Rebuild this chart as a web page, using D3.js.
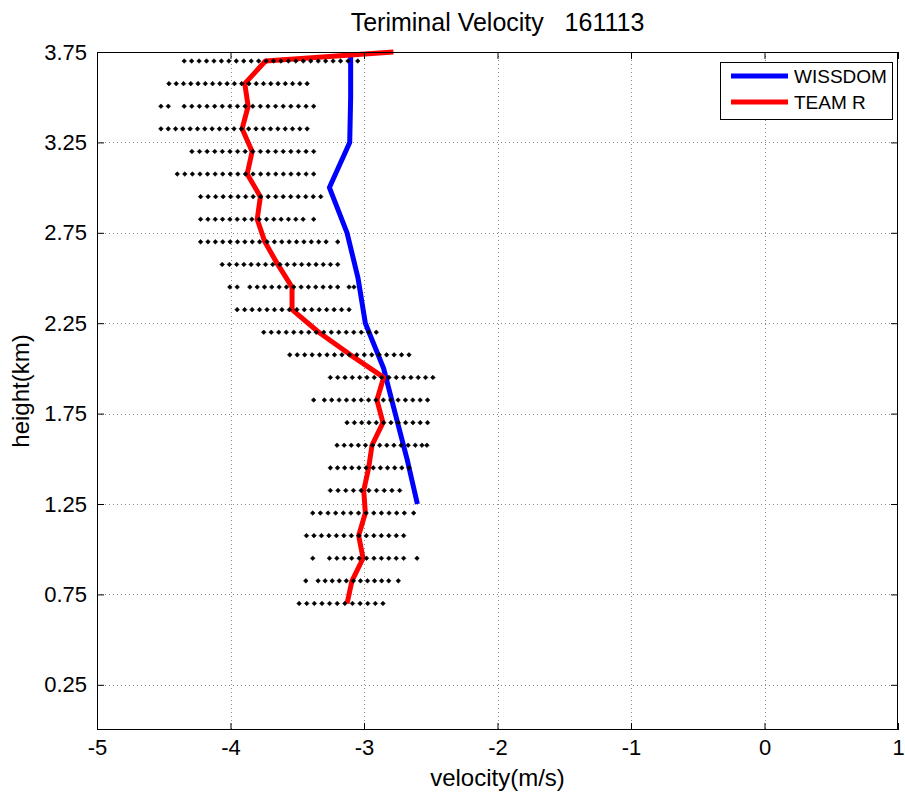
<!DOCTYPE html>
<html>
<head>
<meta charset="utf-8">
<script src="https://cdn.jsdelivr.net/npm/d3@7"></script>
<style>
  html, body { margin: 0; padding: 0; background: #fff; }
  svg { display: block; font-family: "Liberation Sans", Arial, Helvetica, sans-serif; }
</style>
</head>
<body>
<svg id="chart" width="905" height="802"></svg>
<script>
// ---- data ----
const xTicks = [-5, -4, -3, -2, -1, 0, 1];
const yTicks = [0.25, 0.75, 1.25, 1.75, 2.25, 2.75, 3.25, 3.75];

// WISSDOM retrieved terminal velocity profile
const wissdomHeight = [3.75, 3.5, 3.25, 3.0, 2.75, 2.5, 2.25, 2.0, 1.75, 1.5, 1.25];
const wissdomVel    = [-3.10, -3.10, -3.107, -3.259, -3.127, -3.045, -2.99, -2.853, -2.766, -2.678, -2.60];

// TEAM R terminal velocity profile
const teamRHeight = [3.75, 3.7, 3.575, 3.45, 3.325, 3.2, 3.075, 2.95, 2.825, 2.7, 2.575, 2.45, 2.325,
                     2.2, 2.075, 1.95, 1.825, 1.7, 1.575, 1.45, 1.325, 1.2, 1.075, 0.95, 0.825, 0.7];
const teamRVel    = [-2.78, -3.738, -3.893, -3.868, -3.913, -3.838, -3.875, -3.776, -3.80, -3.743, -3.646,
                     -3.539, -3.539, -3.339, -3.102, -2.853, -2.903, -2.858, -2.940, -2.965, -3.002,
                     -2.990, -3.040, -3.007, -3.090, -3.127];

// binned samples: height of each row and the velocity runs [from, to] occupied in that row
const binStep = 0.0556;
const rowHeight = [3.7, 3.575, 3.45, 3.325, 3.2, 3.075, 2.95, 2.825, 2.7, 2.575, 2.45, 2.325, 2.2,
                   2.075, 1.95, 1.825, 1.7, 1.575, 1.45, 1.325, 1.2, 1.075, 0.95, 0.825, 0.7];
const rowRuns = [
  [[-4.347, -3.120], [-3.047, -3.047]],
  [[-4.461, -3.426]],
  [[-4.521, -4.466], [-4.347, -3.377]],
  [[-4.521, -3.426]],
  [[-4.289, -3.377]],
  [[-4.399, -3.377]],
  [[-4.224, -3.324]],
  [[-4.224, -3.456], [-3.377, -3.377]],
  [[-4.224, -3.284], [-3.197, -3.197]],
  [[-4.062, -3.197]],
  [[-4.005, -3.950], [-3.855, -3.197], [-3.112, -3.075]],
  [[-3.950, -3.112]],
  [[-3.751, -2.908]],
  [[-3.556, -2.663]],
  [[-3.252, -2.484]],
  [[-3.377, -3.377], [-3.297, -2.524]],
  [[-3.127, -2.524]],
  [[-3.202, -2.616], [-2.566, -2.529]],
  [[-3.252, -2.663]],
  [[-3.252, -2.733]],
  [[-3.384, -2.698], [-2.628, -2.628]],
  [[-3.431, -2.758], [-2.703, -2.703]],
  [[-3.384, -3.384], [-3.259, -2.703], [-2.603, -2.603]],
  [[-3.436, -3.436], [-3.344, -2.815], [-2.743, -2.743]],
  [[-3.486, -2.858]]
];

const seriesNames = ["WISSDOM", "TEAM R"];
const seriesColors = ["#0000ff", "#ff0000"];

// ---- layout ----
const plot = { left: 97, right: 898, top: 52, bottom: 730 };
const svg = d3.select("#chart");

const x = d3.scaleLinear().domain([-5, 1]).range([plot.left, plot.right]);
const y = d3.scaleLinear().domain([0, 3.75]).range([plot.bottom, plot.top]);

// grid
const grid = svg.append("g").attr("stroke", "#8a8a8a").attr("stroke-width", 1).attr("stroke-dasharray", "1,3");
grid.selectAll("line.gx").data(xTicks.filter(t => t > -5 && t < 1)).join("line")
  .attr("x1", d => Math.round(x(d)) + 0.5).attr("x2", d => Math.round(x(d)) + 0.5)
  .attr("y1", plot.top).attr("y2", plot.bottom);
grid.selectAll("line.gy").data(yTicks.filter(t => t < 3.75)).join("line")
  .attr("y1", d => Math.round(y(d)) + 0.5).attr("y2", d => Math.round(y(d)) + 0.5)
  .attr("x1", plot.left).attr("x2", plot.right);

// clip for data marks
svg.append("clipPath").attr("id", "plotclip").append("rect")
  .attr("x", plot.left).attr("y", plot.top - 4)
  .attr("width", plot.right - plot.left).attr("height", plot.bottom - plot.top + 4);

const marks = svg.append("g").attr("clip-path", "url(#plotclip)");
const line = d3.line().x(d => x(d[0])).y(d => y(d[1]));

marks.append("path")
  .datum(wissdomVel.map((v, i) => [v, wissdomHeight[i]]))
  .attr("d", line).attr("fill", "none").attr("stroke", seriesColors[0])
  .attr("stroke-width", 5).attr("stroke-linejoin", "round");

marks.append("path")
  .datum(teamRVel.map((v, i) => [v, teamRHeight[i]]))
  .attr("d", line).attr("fill", "none").attr("stroke", seriesColors[1])
  .attr("stroke-width", 5).attr("stroke-linejoin", "round");

// sample dots
const dots = [];
rowRuns.forEach((runs, i) => {
  runs.forEach(([a, b]) => {
    const n = Math.round((b - a) / binStep) + 1;
    const s = n > 1 ? (b - a) / (n - 1) : 0;
    for (let k = 0; k < n; k++) dots.push([a + k * s, rowHeight[i]]);
  });
});
marks.append("g").selectAll("path").data(dots).join("path")
  .attr("transform", d => `translate(${x(d[0])},${y(d[1])})`)
  .attr("d", "M-2.3,0L0,-2.3L2.3,0L0,2.3Z")
  .attr("fill", "#000").attr("stroke", "#000").attr("stroke-width", 0.6);

// axes box
svg.append("rect").attr("x", plot.left + 0.5).attr("y", plot.top + 0.5)
  .attr("width", plot.right - plot.left - 1).attr("height", plot.bottom - plot.top - 1)
  .attr("fill", "none").attr("stroke", "#000").attr("stroke-width", 1);

// inward ticks on all sides
const tickLen = 7;
const xAxisB = d3.axisBottom(x).tickValues(xTicks).tickSizeInner(-tickLen).tickSizeOuter(0)
  .tickPadding(9).tickFormat(d => String(d));
const xAxisT = d3.axisTop(x).tickValues(xTicks).tickSizeInner(-tickLen).tickSizeOuter(0).tickFormat("");
const yAxisL = d3.axisLeft(y).tickValues(yTicks).tickSizeInner(-tickLen).tickSizeOuter(0)
  .tickPadding(10).tickFormat(d => d.toFixed(2));
const yAxisR = d3.axisRight(y).tickValues(yTicks).tickSizeInner(-tickLen).tickSizeOuter(0).tickFormat("");

function styleAxis(g) {
  g.select(".domain").remove();
  g.selectAll(".tick line").attr("stroke", "#000");
  g.selectAll(".tick text").attr("fill", "#000").attr("font-size", 22)
    .attr("font-family", "Liberation Sans, Arial, sans-serif");
}
svg.append("g").attr("transform", `translate(0,${plot.bottom})`).call(xAxisB).call(styleAxis);
svg.append("g").attr("transform", `translate(0,${plot.top})`).call(xAxisT).call(styleAxis);
svg.append("g").attr("transform", `translate(${plot.left},0)`).call(yAxisL).call(styleAxis);
svg.append("g").attr("transform", `translate(${plot.right},0)`).call(yAxisR).call(styleAxis);

// labels
svg.append("text").attr("x", (plot.left + plot.right) / 2).attr("y", 31)
  .attr("text-anchor", "middle").attr("font-size", 25)
  .style("white-space", "pre").text("Teriminal Velocity   161113");
svg.append("text").attr("x", (plot.left + plot.right) / 2).attr("y", 786)
  .attr("text-anchor", "middle").attr("font-size", 24).text("velocity(m/s)");
svg.append("text").attr("transform", `translate(29,${(plot.top + plot.bottom) / 2}) rotate(-90)`)
  .attr("text-anchor", "middle").attr("font-size", 24).text("height(km)");

// legend
const lg = svg.append("g");
lg.append("rect").attr("x", 720.5).attr("y", 62.5).attr("width", 172).attr("height", 57)
  .attr("fill", "#fff").attr("stroke", "#000").attr("stroke-width", 1);
seriesNames.forEach((name, i) => {
  const yy = 76 + i * 26;
  lg.append("line").attr("x1", 731).attr("x2", 788).attr("y1", yy).attr("y2", yy)
    .attr("stroke", seriesColors[i]).attr("stroke-width", 5);
  lg.append("text").attr("x", 794).attr("y", yy + 7).attr("font-size", 19).text(name);
});
</script>
</body>
</html>
